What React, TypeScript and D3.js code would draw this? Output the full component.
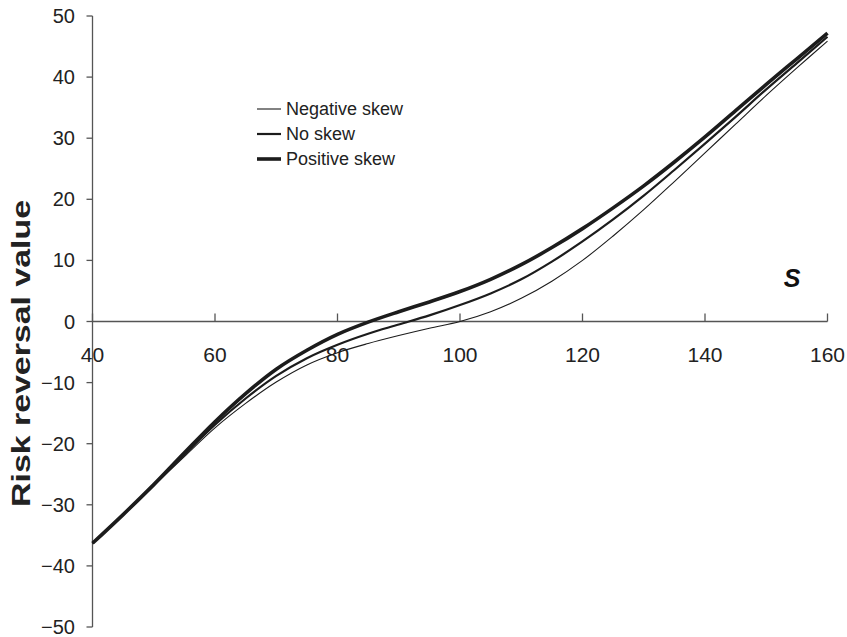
import React from "react";
import * as d3 from "d3";

const sValues = [40, 45, 50, 55, 60, 65, 70, 75, 80, 85, 90, 95, 100, 105, 110, 115, 120, 125, 130, 135, 140, 145, 150, 155, 160];
const positiveSkew = [-36.3, -31.6, -26.7, -21.5, -16.4, -11.8, -7.8, -4.7, -2.1, -0.1, 1.6, 3.2, 4.9, 6.9, 9.3, 12.1, 15.2, 18.6, 22.2, 26.1, 30.2, 34.5, 38.8, 43.0, 47.2];
const noSkew = [-36.3, -31.6, -26.8, -21.8, -16.9, -12.6, -8.9, -6.0, -3.8, -2.0, -0.5, 1.0, 2.7, 4.6, 6.9, 9.8, 13.1, 16.7, 20.6, 24.8, 29.1, 33.5, 38.0, 42.3, 46.6];
const negativeSkew = [-36.3, -31.6, -26.9, -22.1, -17.4, -13.4, -9.9, -7.1, -5.1, -3.6, -2.3, -1.1, 0.0, 1.6, 3.8, 6.6, 10.0, 14.0, 18.3, 22.9, 27.6, 32.3, 37.0, 41.5, 45.9];
const xTicks = [40, 60, 80, 100, 120, 140, 160];
const yTicks = [50, 40, 30, 20, 10, 0, -10, -20, -30, -40, -50];
const seriesNames = ["Negative skew", "No skew", "Positive skew"];

const W = 847;
const H = 637;
const FONT = "'Liberation Sans', Arial, Helvetica, sans-serif";
const AXIS = "#555";
const INK = "#1c1c1c";

export default function App() {
  const x = d3.scaleLinear().domain([40, 160]).range([92.5, 827.5]);
  const y = d3.scaleLinear().domain([-50, 50]).range([627, 16]);
  const line = d3
    .line<[number, number]>()
    .x((d) => x(d[0]))
    .y((d) => y(d[1]))
    .curve(d3.curveCatmullRom.alpha(0.5));

  const series = [
    { name: seriesNames[0], values: negativeSkew, width: 1.1 },
    { name: seriesNames[1], values: noSkew, width: 2.2 },
    { name: seriesNames[2], values: positiveSkew, width: 3.6 },
  ];
  const fmt = (v: number) => (v < 0 ? "\u2212" + Math.abs(v) : String(v));

  return (
    <svg width={W} height={H} style={{ position: "absolute", left: 0, top: 0, background: "#fff" }}>
      {/* Y axis */}
      <line x1={x(40)} x2={x(40)} y1={y(50)} y2={y(-50)} stroke={AXIS} strokeWidth={1.3} />
      {yTicks.map((t) => (
        <g key={"y" + t}>
          <line x1={x(40) - 6} x2={x(40)} y1={y(t)} y2={y(t)} stroke={AXIS} strokeWidth={1.3} />
          <text x={75} y={y(t)} dy="0.35em" textAnchor="end" fontFamily={FONT} fontSize={20} fill="#222">
            {fmt(t)}
          </text>
        </g>
      ))}
      {/* X axis */}
      <line x1={x(40)} x2={x(160)} y1={y(0)} y2={y(0)} stroke={AXIS} strokeWidth={1.3} />
      {xTicks.map((t) => (
        <g key={"x" + t}>
          <line x1={x(t)} x2={x(t)} y1={y(0) - 8} y2={y(0)} stroke={AXIS} strokeWidth={1.3} />
          <text x={x(t)} y={362} textAnchor="middle" fontFamily={FONT} fontSize={21} fill="#222">
            {t}
          </text>
        </g>
      ))}
      {/* Curves */}
      {series.map((s) => (
        <path
          key={s.name}
          d={line(sValues.map((v, i) => [v, s.values[i]] as [number, number])) || ""}
          fill="none"
          stroke={INK}
          strokeWidth={s.width}
        />
      ))}
      {/* Legend */}
      {series.map((s, i) => (
        <g key={"lg" + s.name} transform={`translate(0, ${109 + i * 25})`}>
          <line x1={257} x2={281} y1={0} y2={0} stroke={INK} strokeWidth={s.width} />
          <text x={286} y={0} dy="0.36em" fontFamily={FONT} fontSize={18} fill="#222">
            {s.name}
          </text>
        </g>
      ))}
      {/* Axis titles */}
      <text
        transform="translate(30, 353.5) rotate(-90)"
        textAnchor="middle"
        fontFamily={FONT}
        fontWeight="bold"
        fontSize={25}
        fill="#222"
        textLength={307}
        lengthAdjust="spacingAndGlyphs"
      >
        Risk reversal value
      </text>
      <text x={792} y={287} textAnchor="middle" fontFamily={FONT} fontWeight="bold" fontStyle="italic" fontSize={25} fill="#111">
        S
      </text>
    </svg>
  );
}
